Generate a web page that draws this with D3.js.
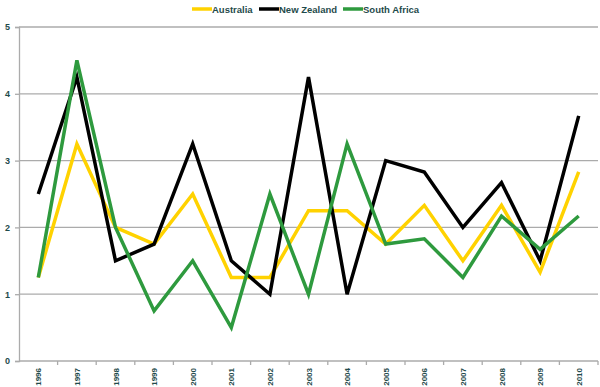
<!DOCTYPE html>
<html>
<head>
<meta charset="utf-8">
<script src="https://cdn.jsdelivr.net/npm/d3@7"></script>
<style>
  body { margin: 0; background: #fff; }
  svg { display: block; font-family: "Liberation Sans", Arial, sans-serif; }
</style>
</head>
<body>
<svg id="chart" width="600" height="387"></svg>
<script>
const years = ["1996", "1997", "1998", "1999", "2000", "2001", "2002", "2003",
    "2004", "2005", "2006", "2007", "2008", "2009", "2010"]
const australia = [1.25, 3.25, 2.0, 1.75, 2.5, 1.25, 1.25, 2.25, 2.25, 1.75, 2.33, 1.5, 2.33, 1.33, 2.83]
const newZealand = [2.5, 4.25, 1.5, 1.75, 3.25, 1.5, 1.0, 4.25, 1.0, 3.0, 2.83, 2.0, 2.67, 1.5, 3.67]
const southAfrica = [1.25, 4.5, 2.0, 0.75, 1.5, 0.5, 2.5, 1.0, 3.25, 1.75, 1.83, 1.25, 2.17, 1.67, 2.17]
const yTicks = [0, 1, 2, 3, 4, 5]

const series = [
    {name: "Australia", values: australia, color: "#ffd200"},
    {name: "New Zealand", values: newZealand, color: "#000000"},
    {name: "South Africa", values: southAfrica, color: "#2e9a3e"},
]

const textColor = "#1f4b4b"
const gridColor = "#ababab"

const plot = {left: 19, right: 598, top: 27, bottom: 361}

const svg = d3.select("#chart")

const x = d3.scaleBand(years, [plot.left, plot.right])
const y = d3.scaleLinear([0, 5], [plot.bottom, plot.top])

// gridlines
svg.append("g")
    .selectAll("line")
    .data(yTicks.filter(d => d > 0))
    .join("line")
    .attr("x1", plot.left).attr("x2", plot.right)
    .attr("y1", d => y(d)).attr("y2", d => y(d))
    .attr("stroke", gridColor)
    .attr("stroke-width", 1.3)

// y axis
const yAxis = svg.append("g")
    .attr("transform", `translate(${plot.left}, 0)`)
    .call(d3.axisLeft(y).tickValues(yTicks).tickFormat(d3.format("d")).tickSize(4).tickPadding(5))
yAxis.select(".domain").attr("stroke", gridColor).attr("stroke-width", 1.3)
yAxis.selectAll(".tick line").attr("stroke", gridColor).attr("stroke-width", 1.3)
yAxis.selectAll(".tick text")
    .attr("fill", textColor)
    .style("font-size", "9px")
    .style("font-weight", "bold")

// x axis: ticks on category boundaries
const xAxis = svg.append("g")
    .attr("transform", `translate(0, ${plot.bottom})`)
xAxis.append("line")
    .attr("x1", plot.left).attr("x2", plot.right)
    .attr("stroke", gridColor).attr("stroke-width", 1.3)
xAxis.selectAll(".bnd")
    .data(years)
    .join("line")
    .attr("class", "bnd")
    .attr("x1", d => x(d) + x.step())
    .attr("x2", d => x(d) + x.step())
    .attr("y1", 0).attr("y2", 4)
    .attr("stroke", gridColor).attr("stroke-width", 1.3)
xAxis.selectAll("text")
    .data(years)
    .join("text")
    .attr("transform", d => `translate(${x(d) + x.bandwidth() / 2 + 3}, 7) rotate(-90)`)
    .attr("text-anchor", "end")
    .attr("fill", textColor)
    .style("font-size", "8px")
    .style("font-weight", "bold")
    .text(d => d)

// lines
const line = d3.line()
    .x((d, i) => x(years[i]) + x.bandwidth() / 2)
    .y(d => y(d))

svg.append("g")
    .selectAll("path")
    .data(series)
    .join("path")
    .attr("d", d => line(d.values))
    .attr("fill", "none")
    .attr("stroke", d => d.color)
    .attr("stroke-width", 3.5)
    .attr("stroke-linejoin", "miter")

// legend
const legendX = [192, 259, 343]
const legend = svg.append("g")
    .selectAll("g")
    .data(series)
    .join("g")
    .attr("transform", (d, i) => `translate(${legendX[i]}, 9)`)
legend.append("line")
    .attr("x1", 0).attr("x2", 20)
    .attr("stroke", d => d.color)
    .attr("stroke-width", 3.5)
legend.append("text")
    .attr("x", 20).attr("y", 3.5)
    .attr("fill", textColor)
    .style("font-size", "9.5px")
    .style("font-weight", "bold")
    .text(d => d.name)
</script>
</body>
</html>
